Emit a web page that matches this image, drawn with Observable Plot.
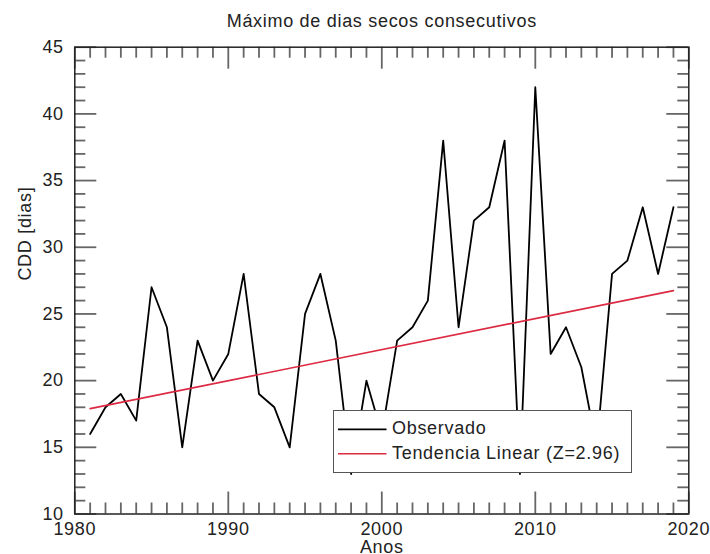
<!DOCTYPE html>
<html>
<head>
<meta charset="utf-8">
<script src="https://cdn.jsdelivr.net/npm/d3@7"></script>
<script src="https://cdn.jsdelivr.net/npm/@observablehq/plot@0.6"></script>
<style>
  body { margin: 0; background: #fff; }
  #wrap { position: relative; width: 710px; height: 554px; overflow: hidden; background: #fff; }
  #wrap svg { font-size: 18px; font-family: "Liberation Sans", Arial, Helvetica, sans-serif; color: #222; }
  #wrap svg text { letter-spacing: 0.7px; }
  #legend { position: absolute; left: 333px; top: 410px; width: 299px; height: 63px;
            background: #fff; border: 1px solid #555; box-sizing: border-box; }
  #legend svg { position: absolute; left: -1px; top: -1px; }
  #legend text { font-family: "Liberation Sans", Arial, Helvetica, sans-serif; font-size: 18px;
                 letter-spacing: 0.7px; fill: #222; }
</style>
</head>
<body>
<div id="wrap"></div>
<script>
// ---- data ----
const years = [1981,1982,1983,1984,1985,1986,1987,1988,1989,1990,
               1991,1992,1993,1994,1995,1996,1997,1998,1999,2000,
               2001,2002,2003,2004,2005,2006,2007,2008,2009,2010,
               2011,2012,2013,2014,2015,2016,2017,2018,2019];
const cdd   = [16,18,19,17,27,24,15,23,20,22,
               28,19,18,15,25,28,23,13,20,16,
               23,24,26,38,24,32,33,38,13,42,
               22,24,21,15,28,29,33,28,33];
const trendYears  = [1981, 2019];
const trendValues = [17.9, 26.75];
const xMajor = [1980, 1990, 2000, 2010, 2020];
const yMajor = [10, 15, 20, 25, 30, 35, 40, 45];
const xMinor = d3.range(1980, 2021, 1).filter(v => !xMajor.includes(v));
const yMinor = d3.range(10, 46, 1).filter(v => !yMajor.includes(v));
const titleText = "Máximo de dias secos consecutivos";
const xLabel = "Anos";
const yLabel = "CDD [dias]";
const legendLabels = ["Observado", "Tendencia Linear (Z=2.96)"];

// ---- layout ----
const W = 710, H = 554;
const mL = 74.3, mR = 21.7, mT = 46.7, mB = 40.5;
const fw = W - mL - mR, fh = H - mT - mB;
const minorLen = 11, majorLen = 22;
const red = "#dc2a42";
const ink = "#222";
const tickInk = {stroke: "#666", strokeWidth: 1.8};

const obs = years.map((y, i) => ({year: y, v: cdd[i]}));
const trend = trendYears.map((y, i) => ({year: y, v: trendValues[i]}));

// inward ticks on all four sides: rules trimmed with insets to the tick length
const ticksX = (vals, len) => [
  Plot.ruleX(vals, {x: d => d, insetTop: fh - len, ...tickInk}),
  Plot.ruleX(vals, {x: d => d, insetBottom: fh - len, ...tickInk})
];
const ticksY = (vals, len) => [
  Plot.ruleY(vals, {y: d => d, insetRight: fw - len, ...tickInk}),
  Plot.ruleY(vals, {y: d => d, insetLeft: fw - len, ...tickInk})
];

const chart = Plot.plot({
  width: W, height: H,
  marginLeft: mL, marginRight: mR, marginTop: mT, marginBottom: mB,
  x: {domain: [1980, 2020], label: null},
  y: {domain: [10, 45], label: null},
  marks: [
    ...ticksX(xMinor, minorLen),
    ...ticksX(xMajor, majorLen),
    ...ticksY(yMinor, minorLen),
    ...ticksY(yMajor, majorLen),
    Plot.line(obs, {x: "year", y: "v", stroke: "#000", strokeWidth: 1.8}),
    Plot.line(trend, {x: "year", y: "v", stroke: red, strokeWidth: 1.6}),
    Plot.frame({stroke: ink, strokeWidth: 1.5}),
    Plot.axisX(xMajor, {tickSize: 0, tickPadding: 8, tickFormat: d => String(d), label: null, fill: ink}),
    Plot.axisY(yMajor, {tickSize: 0, tickPadding: 11, tickFormat: d => String(d), label: null, fill: ink}),
    Plot.text([titleText], {frameAnchor: "top", lineAnchor: "bottom", dy: -20, fill: ink}),
    Plot.text([xLabel], {frameAnchor: "bottom", lineAnchor: "top", dy: 26.5, fill: ink}),
    Plot.text([yLabel], {frameAnchor: "left", rotate: -90, dx: -50, fill: ink})
  ]
});

const wrap = document.getElementById("wrap");
wrap.appendChild(chart);

// ---- legend (overlay box, as in the reference) ----
const lg = document.createElement("div");
lg.id = "legend";
lg.innerHTML = `<svg width="299" height="63">
  <line x1="5" x2="53.5" y1="19.3" y2="19.3" stroke="#000" stroke-width="1.8"></line>
  <text x="59" y="24.3">${legendLabels[0]}</text>
  <line x1="5" x2="53.5" y1="43.7" y2="43.7" stroke="${red}" stroke-width="1.6"></line>
  <text x="59" y="48.5">${legendLabels[1]}</text>
</svg>`;
wrap.appendChild(lg);
</script>
</body>
</html>
